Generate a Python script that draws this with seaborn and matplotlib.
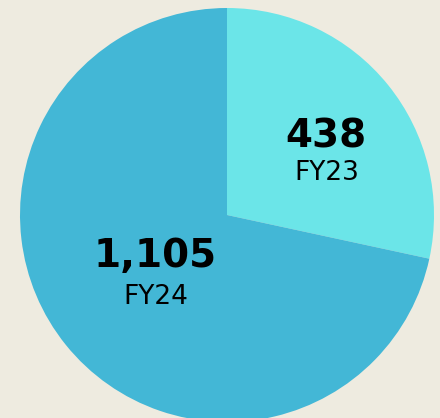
import matplotlib
matplotlib.use("Agg")
import matplotlib.pyplot as plt
import seaborn as sns

# data
years = ["FY23", "FY24"]
values = [438, 1105]
value_labels = ["438", "1,105"]

bg = "#EEEBE0"
sns.set_theme(style="white")
plt.rcParams['font.family'] = ['DejaVu Sans']
colors = sns.color_palette(["#6BE5E8", "#43B7D6"])

fig = plt.figure(figsize=(4.4, 4.18), dpi=100, facecolor=bg)
ax = fig.add_axes([0, 0, 1, 1])
ax.set_facecolor(bg)

# pie starts at 12 o'clock and goes clockwise
ax.pie(values, colors=colors, startangle=90, counterclock=False,
       radius=1, center=(0, 0), wedgeprops={'linewidth': 0})

# 1 data unit = 207 px, pie centre at pixel (227, 215)
ax.set_xlim(-227 / 207, (440 - 227) / 207)
ax.set_ylim(-(418 - 215) / 207, 215 / 207)
ax.set_aspect('auto')
ax.axis('off')

# labels inside each slice
label_pos = [(0.480, 0.325, 0.170), (-0.345, -0.250, -0.428)]
for (x, yv, yl), vl, yr in zip(label_pos, value_labels, years):
    ax.text(x, yv, vl, ha='center', va='baseline', fontsize=28,
            fontweight='bold', color='black')
    ax.text(x, yl, yr, ha='center', va='baseline', fontsize=19,
            color='black')

fig.savefig("out.png", dpi=100, facecolor=bg)
